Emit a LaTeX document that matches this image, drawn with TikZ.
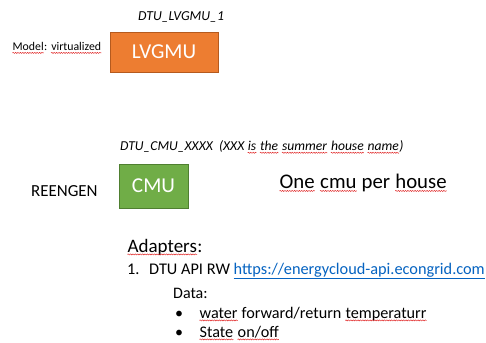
\documentclass[tikz,border=0pt]{standalone}
\usepackage{fontspec}
\setmainfont{Carlito}
\usetikzlibrary{decorations.pathmorphing}
\definecolor{boxorange}{HTML}{ED7D31}
\definecolor{boxorangeline}{HTML}{B55A1E}
\definecolor{boxgreen}{HTML}{70AD47}
\definecolor{boxgreenline}{HTML}{4F7F30}
\definecolor{linkblue}{HTML}{0563C1}
\definecolor{spellred}{HTML}{E02020}
% spell-check style wavy underline
\newcommand\sq[1]{\tikz[baseline=(sqword.base),x=1pt,y=1pt]{%
  \node[inner sep=0pt,anchor=base,draw=none] (sqword) {#1};
  \draw[spellred,line width=0.45pt,decorate,
    decoration={snake,amplitude=0.55pt,segment length=2.4pt}]
    ([yshift=-2.4pt]sqword.base west) -- ([yshift=-2.4pt]sqword.base east);}}
\newcommand\fs[1]{\fontsize{#1}{#1}\selectfont}
\tikzset{
  label text/.style={inner sep=0pt, anchor=west, text=black},
  unitbox/.style={draw, line width=0.8pt, inner sep=0pt, text=white,
    font=\fs{21.2}},
}
\begin{document}
\begin{tikzpicture}[x=1pt,y=-1pt]
\useasboundingbox (0,0) rectangle (486,342);
\fill[white] (0,0) rectangle (486,342);

% virtual gateway
\node[label text, font=\fs{13.7}\itshape] (lvtitle) at (138,17) {DTU\_LVGMU\_1};
\node[label text, font=\fs{11.8}] (model) at (12,48) {\sq{Model}: \sq{virtualized}};
\node[unitbox, fill=boxorange, draw=boxorangeline, minimum width=108pt,
  minimum height=40pt] (lvgmu) at (164,52) {LVGMU};

% house unit
\node[label text, font=\fs{13.6}\itshape] (cmutitle) at (120,147)
  {DTU\_CMU\_XXXX\ \ (XXX \sq{is} \sq{the} \sq{summer} \sq{house} \sq{name})};
\node[label text, font=\fs{16.9}] (reengen) at (31,191) {REENGEN};
\node[unitbox, fill=boxgreen, draw=boxgreenline, minimum width=69pt,
  minimum height=44pt] (cmu) at (153.5,186) {CMU};
\node[label text, font=\fs{20.8}] (perhouse) at (279,183)
  {\sq{One} \sq{cmu} per \sq{house}};

% adapters list, items aligned on their baselines
\coordinate (numx) at (127,0);
\coordinate (bulx) at (175,0);
\node[label text, font=\fs{19}] (adapters) at (127,247) {\sq{Adapters}:};
\node[label text, anchor=base west, font=\fs{16.3}] (api) at (149,274)
  {DTU API RW {\color{linkblue}\underline{https://energycloud-api.econgrid.com}}};
\node[label text, anchor=base west, font=\fs{16.3}] (num) at (api.base -| numx) {1.};
\node[label text, font=\fs{16}] (data) at (173,293) {Data:};
\node[label text, anchor=base west, font=\fs{16.2}] (water) at (199,318)
  {\sq{water} forward/return \sq{temperaturr}};
\node[label text, anchor=base west, font=\fs{16}] (b1) at (water.base -| bulx) {•};
\node[label text, anchor=base west, font=\fs{16.2}] (state) at (199,337)
  {\sq{State} \sq{on/off}};
\node[label text, anchor=base west, font=\fs{16}] (b2) at (state.base -| bulx) {•};
\end{tikzpicture}
\end{document}
